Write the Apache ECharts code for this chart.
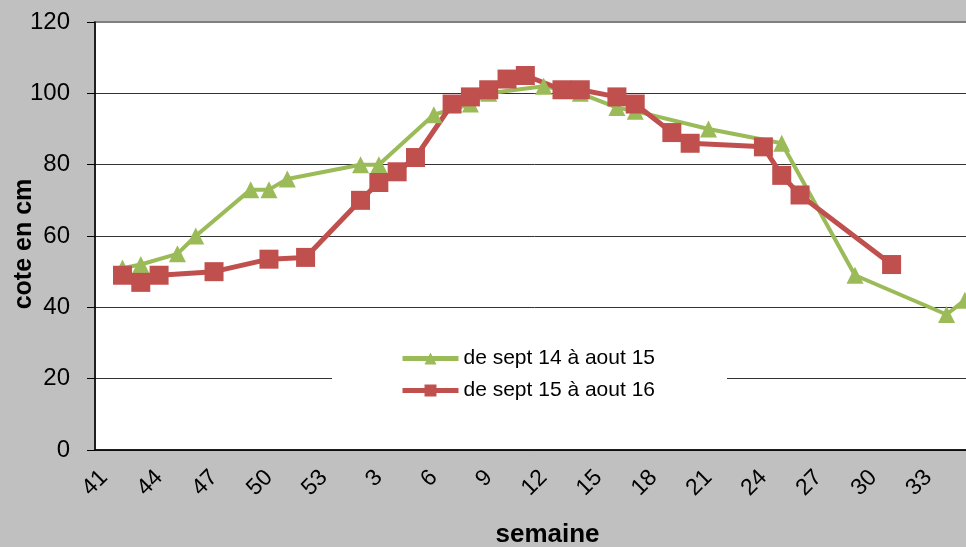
<!DOCTYPE html>
<html>
<head>
<meta charset="utf-8">
<title>cote en cm par semaine</title>
<script src="https://cdn.jsdelivr.net/npm/echarts@6/dist/echarts.min.js"></script>
<style>
  html, body {
    margin: 0;
    padding: 0;
    background: #c0c0c0;
    overflow: hidden;
  }
  #chart {
    width: 1010px;
    height: 547px;
  }
</style>
</head>
<body>
<div id="chart"></div>
<script>
// semaines de 41 a 53 puis 1 a 35
const weeks = [
  '41', '42', '43', '44', '45', '46', '47', '48', '49', '50', '51', '52', '53',
  '1', '2', '3', '4', '5', '6', '7', '8', '9', '10', '11', '12', '13', '14', '15',
  '16', '17', '18', '19', '20', '21', '22', '23', '24', '25', '26', '27', '28',
  '29', '30', '31', '32', '33', '34', '35'
];

// de sept 14 a aout 15
const greenWeeks = [42, 43, 45, 46, 49, 50, 51, 2, 3, 6, 8, 9, 12, 14, 16, 17, 21, 25, 29, 34, 35];
const greenValues = [51, 52, 55, 60, 73, 73, 76, 80, 80, 94, 97, 100, 102, 100, 96, 95, 90, 86, 49, 38, 42];

// de sept 15 a aout 16
const redWeeks = [42, 43, 44, 47, 50, 52, 2, 3, 4, 5, 7, 8, 9, 10, 11, 13, 14, 16, 17, 19, 20, 24, 25, 26, 31];
const redValues = [49, 47, 49, 50, 53.5, 54, 70, 75, 78, 82, 97, 99, 101, 104, 105, 101, 101, 99, 97, 89, 86, 85, 77, 71.5, 52];

const yTicks = [0, 20, 40, 60, 80, 100, 120];

// aligne les valeurs sur les semaines (null = pas de mesure)
const toSeries = (wk, vals) => weeks.map(w => {
  const i = wk.indexOf(Number(w));
  return i >= 0 ? vals[i] : null;
});

const chart = echarts.init(document.getElementById('chart'));
const font = 'Liberation Sans, Arial, sans-serif';

chart.setOption({
  backgroundColor: '#c0c0c0',
  animation: false,
  grid: {
    left: 95,
    top: 22,
    width: 879,
    bottom: 97,
    outerBoundsMode: 'none',
    containLabel: false,
    show: true,
    backgroundColor: '#ffffff',
    borderColor: '#808080',
    borderWidth: 2
  },
  legend: {
    orient: 'vertical',
    left: 332,
    top: 318,
    padding: [30, 72, 35, 68],
    backgroundColor: '#ffffff',
    itemWidth: 56,
    itemHeight: 15,
    itemGap: 11,
    lineStyle: { width: 5 },
    textStyle: {
      fontFamily: font,
      fontSize: 21,
      color: '#000'
    },
    data: ['de sept 14 à aout 15', 'de sept 15 à aout 16']
  },
  xAxis: {
    type: 'category',
    data: weeks,
    boundaryGap: true,
    name: 'semaine',
    nameLocation: 'middle',
    nameGap: 72,
    nameMoveOverlap: false,
    nameTextStyle: {
      fontFamily: font,
      fontSize: 26,
      fontWeight: 'bold',
      color: '#000',
      padding: [0, 0, 0, 26]
    },
    axisLine: { lineStyle: { color: '#000', width: 1.5 } },
    axisTick: { interval: 0, length: 7, lineStyle: { color: '#000' } },
    axisLabel: {
      interval: 2,
      rotate: 45,
      margin: 24,
      fontFamily: font,
      fontSize: 23,
      color: '#000'
    },
    splitLine: { show: false }
  },
  yAxis: {
    type: 'value',
    min: yTicks[0],
    max: yTicks[yTicks.length - 1],
    interval: 20,
    name: 'cote en cm',
    nameLocation: 'middle',
    nameRotate: 90,
    nameGap: 58,
    nameMoveOverlap: false,
    nameTextStyle: {
      fontFamily: font,
      fontSize: 25,
      fontWeight: 'bold',
      color: '#000',
      padding: [0, 16, 0, 0]
    },
    axisLine: { show: true, lineStyle: { color: '#000', width: 1.5 } },
    axisTick: { show: true, length: 8, lineStyle: { color: '#000' } },
    axisLabel: {
      margin: 25,
      fontFamily: font,
      fontSize: 24,
      color: '#000'
    },
    splitLine: {
      showMaxLine: false,
      lineStyle: { color: '#333', width: 1 }
    }
  },
  series: [
    {
      name: 'de sept 14 à aout 15',
      type: 'line',
      data: toSeries(greenWeeks, greenValues),
      connectNulls: true,
      showAllSymbol: true,
      symbol: 'triangle',
      symbolSize: 17,
      color: '#9bbb59',
      lineStyle: { color: '#9bbb59', width: 4 },
      itemStyle: { color: '#9bbb59' }
    },
    {
      name: 'de sept 15 à aout 16',
      type: 'line',
      data: toSeries(redWeeks, redValues),
      connectNulls: true,
      showAllSymbol: true,
      symbol: 'rect',
      symbolSize: 19,
      color: '#c0504d',
      lineStyle: { color: '#c0504d', width: 5 },
      itemStyle: { color: '#c0504d' }
    }
  ]
});
</script>
</body>
</html>
